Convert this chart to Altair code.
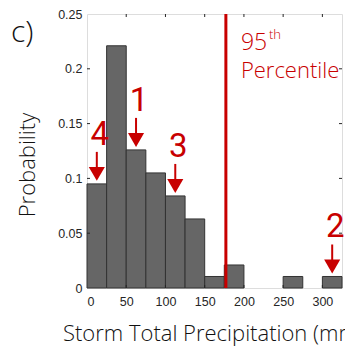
import altair as alt
import pandas as pd

# Histogram bins (mm) and probabilities
bin_start = [0, 25, 50, 75, 100, 125, 150, 175, 200, 225, 250, 275, 300]
bin_end = [25, 50, 75, 100, 125, 150, 175, 200, 225, 250, 275, 300, 325]
prob = [0.095, 0.221, 0.126, 0.105, 0.084, 0.063, 0.0105, 0.021, 0.0, 0.0, 0.0105, 0.0, 0.0105]

# Annotated storms: label and bin index
ann_labels = ["4", "1", "3", "2"]
ann_bins = [0, 2, 4, 12]

p95 = 177
x_ticks = [0, 50, 100, 150, 200, 250, 300]
y_ticks = [0, 0.05, 0.1, 0.15, 0.2, 0.25]

RED = "#C80000"
W, H = 255, 274
TITLE_FONT = "Open Sans"

bars_df = pd.DataFrame({"start": bin_start, "end": bin_end, "prob": prob})
ann_df = pd.DataFrame({
    "label": ann_labels,
    "x": [(bin_start[i] + bin_end[i]) / 2 for i in ann_bins],
    "y": [prob[i] for i in ann_bins],
})

xscale = alt.Scale(domain=[0, 325], nice=False, zero=False)
yscale = alt.Scale(domain=[0, 0.25], nice=False)

base = alt.Chart(bars_df).transform_filter("datum.prob > 0")

bars = base.mark_bar(fill="#666666", stroke="#333333", strokeWidth=1).encode(
    x=alt.X("start:Q", scale=xscale, axis=alt.Axis(
        values=x_ticks, title=None, ticks=False, labelFont="Liberation Sans",
        labelFontSize=12.5, labelColor="#262626", labelPadding=7, domain=False, grid=False)),
    x2="end:Q",
    y=alt.Y("prob:Q", scale=yscale, axis=alt.Axis(
        values=y_ticks, title=None, ticks=False, labelFont="Liberation Sans",
        labelFontSize=12.5, labelColor="#262626", labelPadding=5, domain=False, grid=False,
        labelExpr="datum.value == 0 ? '0' : format(datum.value, '~g')")),
    y2=alt.datum(0),
)

pline = alt.Chart(pd.DataFrame({"x": [p95]})).mark_rule(color=RED, strokeWidth=3).encode(
    x=alt.X("x:Q", scale=xscale), y=alt.value(0), y2=alt.value(H))

p_text95 = alt.Chart(pd.DataFrame({"x": [p95], "t": ["95"]})).mark_text(
    color=RED, font=TITLE_FONT, fontWeight=300, fontSize=23, align="left", baseline="alphabetic",
    dx=15).encode(x=alt.X("x:Q", scale=xscale), y=alt.value(36), text="t:N")
p_textth = alt.Chart(pd.DataFrame({"x": [p95], "t": ["th"]})).mark_text(
    color=RED, font=TITLE_FONT, fontWeight=300, fontSize=13, align="left", baseline="alphabetic",
    dx=43).encode(x=alt.X("x:Q", scale=xscale), y=alt.value(25), text="t:N")
p_textP = alt.Chart(pd.DataFrame({"x": [p95], "t": ["Percentile"]})).mark_text(
    color=RED, font=TITLE_FONT, fontWeight=300, fontSize=22, align="left", baseline="alphabetic",
    dx=15).encode(x=alt.X("x:Q", scale=xscale), y=alt.value(64), text="t:N")

ann = alt.Chart(ann_df)
shafts = ann.mark_rule(color=RED, strokeWidth=2, yOffset=-16, y2Offset=-32).encode(
    x=alt.X("x:Q", scale=xscale), y=alt.Y("y:Q", scale=yscale), y2="y:Q")
heads = ann.mark_point(shape="triangle-down", filled=True, fill=RED, color=RED, opacity=1,
                       size=260, yOffset=-10).encode(
    x=alt.X("x:Q", scale=xscale), y=alt.Y("y:Q", scale=yscale))
nums = ann.mark_text(color=RED, font="Roboto", fontSize=33, fontWeight=400,
                     baseline="alphabetic", align="center", dx=3, dy=-39).encode(
    x=alt.X("x:Q", scale=xscale), y=alt.Y("y:Q", scale=yscale), text="label:N")

# inward ticks (MATLAB style box)
tick_color = "#262626"
yt = alt.Chart(pd.DataFrame({"v": y_ticks[1:-1]}))
left_ticks = yt.mark_rule(color=tick_color, strokeWidth=1).encode(
    y=alt.Y("v:Q", scale=yscale), x=alt.value(0), x2=alt.value(3))
right_ticks = yt.mark_rule(color=tick_color, strokeWidth=1).encode(
    y=alt.Y("v:Q", scale=yscale), x=alt.value(W - 3), x2=alt.value(W))
xt = alt.Chart(pd.DataFrame({"v": x_ticks[1:]}))
bottom_ticks = xt.mark_rule(color=tick_color, strokeWidth=1).encode(
    x=alt.X("v:Q", scale=xscale), y=alt.value(H - 3), y2=alt.value(H))
top_ticks = xt.mark_rule(color=tick_color, strokeWidth=1).encode(
    x=alt.X("v:Q", scale=xscale), y=alt.value(0), y2=alt.value(3))

labels_df = pd.DataFrame({"t": ["c)"]})
panel = alt.Chart(labels_df).mark_text(font=TITLE_FONT, fontWeight=300, fontSize=30, color="#111111",
                                       align="left", baseline="alphabetic").encode(
    x=alt.value(-76), y=alt.value(28), text="t:N")
ytitle = alt.Chart(pd.DataFrame({"t": ["Probability"]})).mark_text(
    font=TITLE_FONT, fontWeight=300, fontSize=22, color="#111111", angle=270,
    align="center", baseline="alphabetic").encode(x=alt.value(-52), y=alt.value(151), text="t:N")
xtitle = alt.Chart(pd.DataFrame({"t": ["Storm Total Precipitation (mm)"]})).mark_text(
    font=TITLE_FONT, fontWeight=300, fontSize=22, color="#111111",
    align="left", baseline="alphabetic").encode(x=alt.value(-24), y=alt.value(327), text="t:N")

chart = alt.layer(
    bars, pline, left_ticks, right_ticks, bottom_ticks, top_ticks,
    shafts, heads, nums, p_text95, p_textth, p_textP, panel, ytitle, xtitle,
).properties(
    width=W, height=H,
    autosize=alt.AutoSizeParams(type="none"),
    padding={"left": 79, "top": 6, "right": 3, "bottom": 59},
).configure_view(stroke="#7f7f7f", strokeWidth=1).configure(background="white")

chart.save("out.html", embed_options={"renderer": "svg", "actions": False})
